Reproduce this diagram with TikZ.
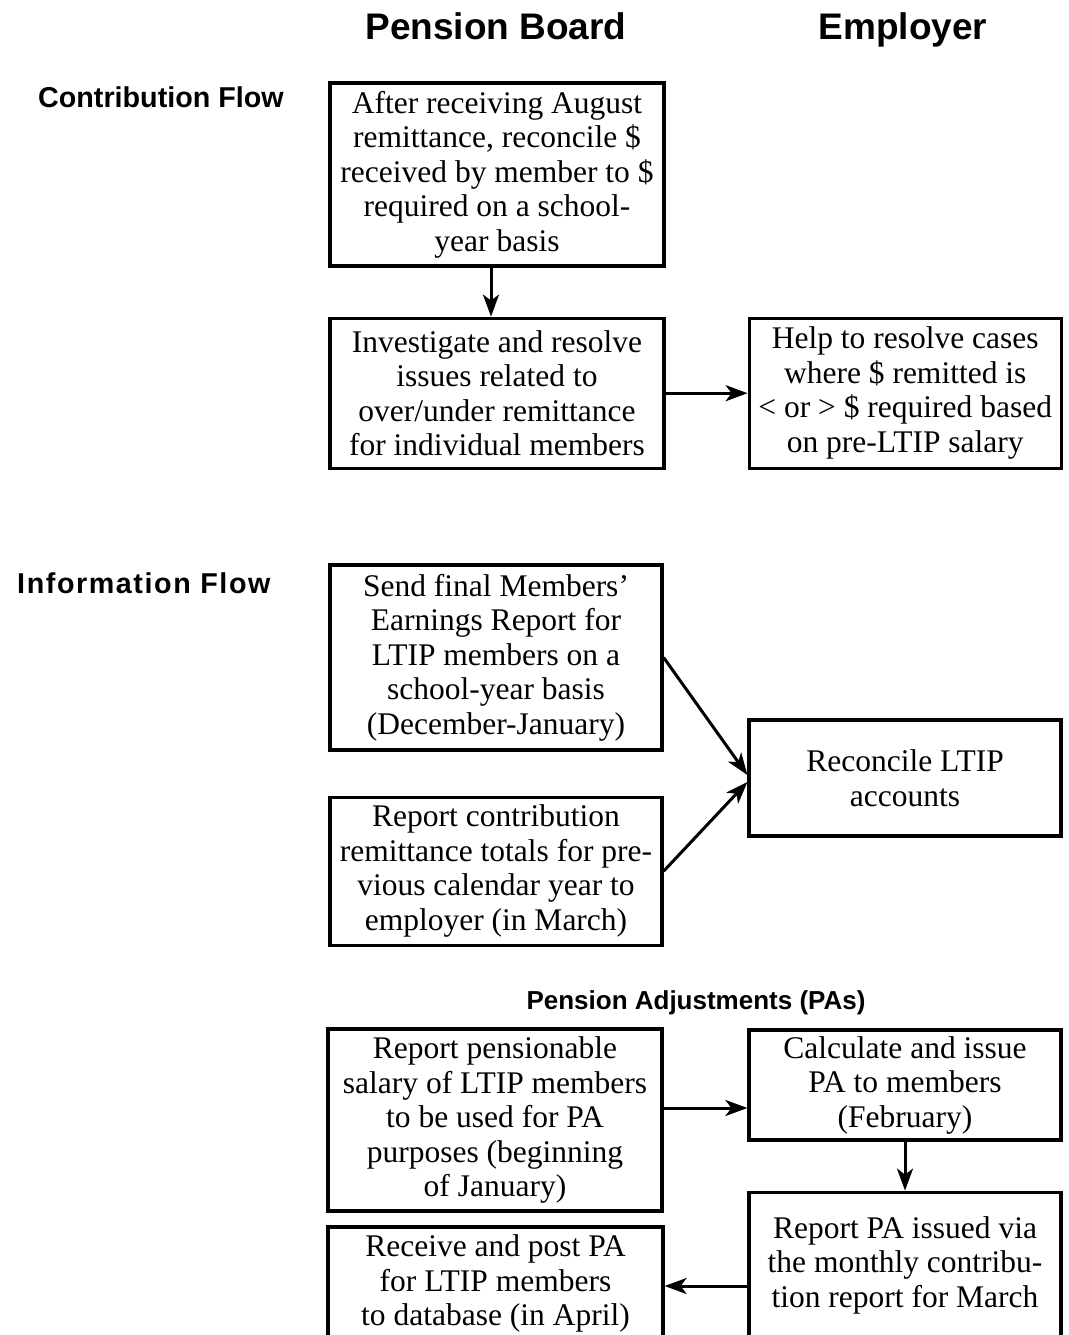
\documentclass[tikz,border=0pt]{standalone}
\usepackage{fontspec}
\setmainfont{Liberation Serif}
\setsansfont{Liberation Sans}
\usepackage{tikz}
\usetikzlibrary{positioning, arrows.meta}

\tikzset{
	pbox/.style={draw, line width=3.2pt, align=center, inner sep=0pt, minimum width=334pt, font=\fontsize{31.5}{34.5}\selectfont},
	ebox/.style={pbox, minimum width=312pt},
	arr/.style={line width=3pt, -{Stealth[length=22pt, width=16pt, inset=6pt]}},
	head/.style={font=\sffamily\bfseries\fontsize{37}{40}\selectfont, anchor=base, inner sep=0pt},
	side/.style={font=\sffamily\bfseries\fontsize{28.7}{32}\selectfont, anchor=base west, inner sep=0pt}
}

\begin{document}
\begin{tikzpicture}[x=1pt, y=-1pt]
		\useasboundingbox (0,0) rectangle (1068,1335);
		
		\node[head] (hpb) at (496,40) {Pension Board};
		\node[head] (hem) at (903,40) {Employer};
		
		\node[side] (lcf) at (38,108) {Contribution Flow};
		\node[pbox, minimum height=183pt] (cf1) at (497,174.5) {After receiving August\\ remittance, reconcile \$\\ received by member to \$\\ required on a school-\\ year basis};
		\node[pbox, minimum height=150pt, below=49pt of cf1] (cf2) {Investigate and resolve\\ issues related to\\ over/under remittance\\ for individual members};
		\node[ebox, minimum height=150pt, right=82pt of cf2] (cf3) {Help to resolve cases\\ where \$ remitted is\\ < or > \$ required based\\ on pre-LTIP salary};
		\draw[arr] ([xshift=-6pt]cf1.south) -- ([xshift=-6pt]cf2.north);
		\draw[arr] (cf2) -- (cf3);
		
		\node[side, font=\sffamily\bfseries\fontsize{28.7}{32}\selectfont\addfontfeature{LetterSpace=5.5}] (lif) at (17,593) {Information Flow};
		\node[pbox, minimum width=332pt, minimum height=185pt] (if1) at (496,657.5) {Send final Members’\\ Earnings Report for\\ LTIP members on a\\ school-year basis\\ (December-January)};
		\node[pbox, minimum width=332pt, minimum height=148pt, below=44pt of if1] (if2) {Report contribution\\ remittance totals for pre-\\ vious calendar year to\\ employer (in March)};
		\node[ebox, minimum height=116pt] (if3) at (905,778) {Reconcile LTIP\\ accounts};
		\draw[arr] (if1.east) -- ([yshift=3pt]if3.west);
		\draw[arr] (if2.east) -- ([yshift=-4pt]if3.west);
		
		\node[head, font=\sffamily\bfseries\fontsize{26}{28}\selectfont] (lpa) at (696,1009) {Pension Adjustments (PAs)};
		\node[pbox, minimum height=182pt] (pa1) at (495,1120) {Report pensionable\\ salary of LTIP members\\ to be used for PA\\ purposes (beginning\\ of January)};
		\node[ebox, minimum height=110pt] (pa2) at (905,1085) {Calculate and issue\\ PA to members\\ (February)};
		\node[ebox, minimum height=146pt, below=49pt of pa2] (pa3) {Report PA issued via\\ the monthly contribu-\\ tion report for March};
		\node[pbox, minimum width=335pt, minimum height=113pt] (pa4) at (495.5,1283.5) {Receive and post PA\\ for LTIP members\\ to database (in April)};
		\draw[arr] ([yshift=12pt]pa1.east) -- ([yshift=12pt]pa1.east -| pa2.west);
		\draw[arr] (pa2) -- (pa3);
		\draw[arr] (pa3.west |- 0,1286) -- (pa4.east |- 0,1286);
		
	\end{tikzpicture}
\end{document}
